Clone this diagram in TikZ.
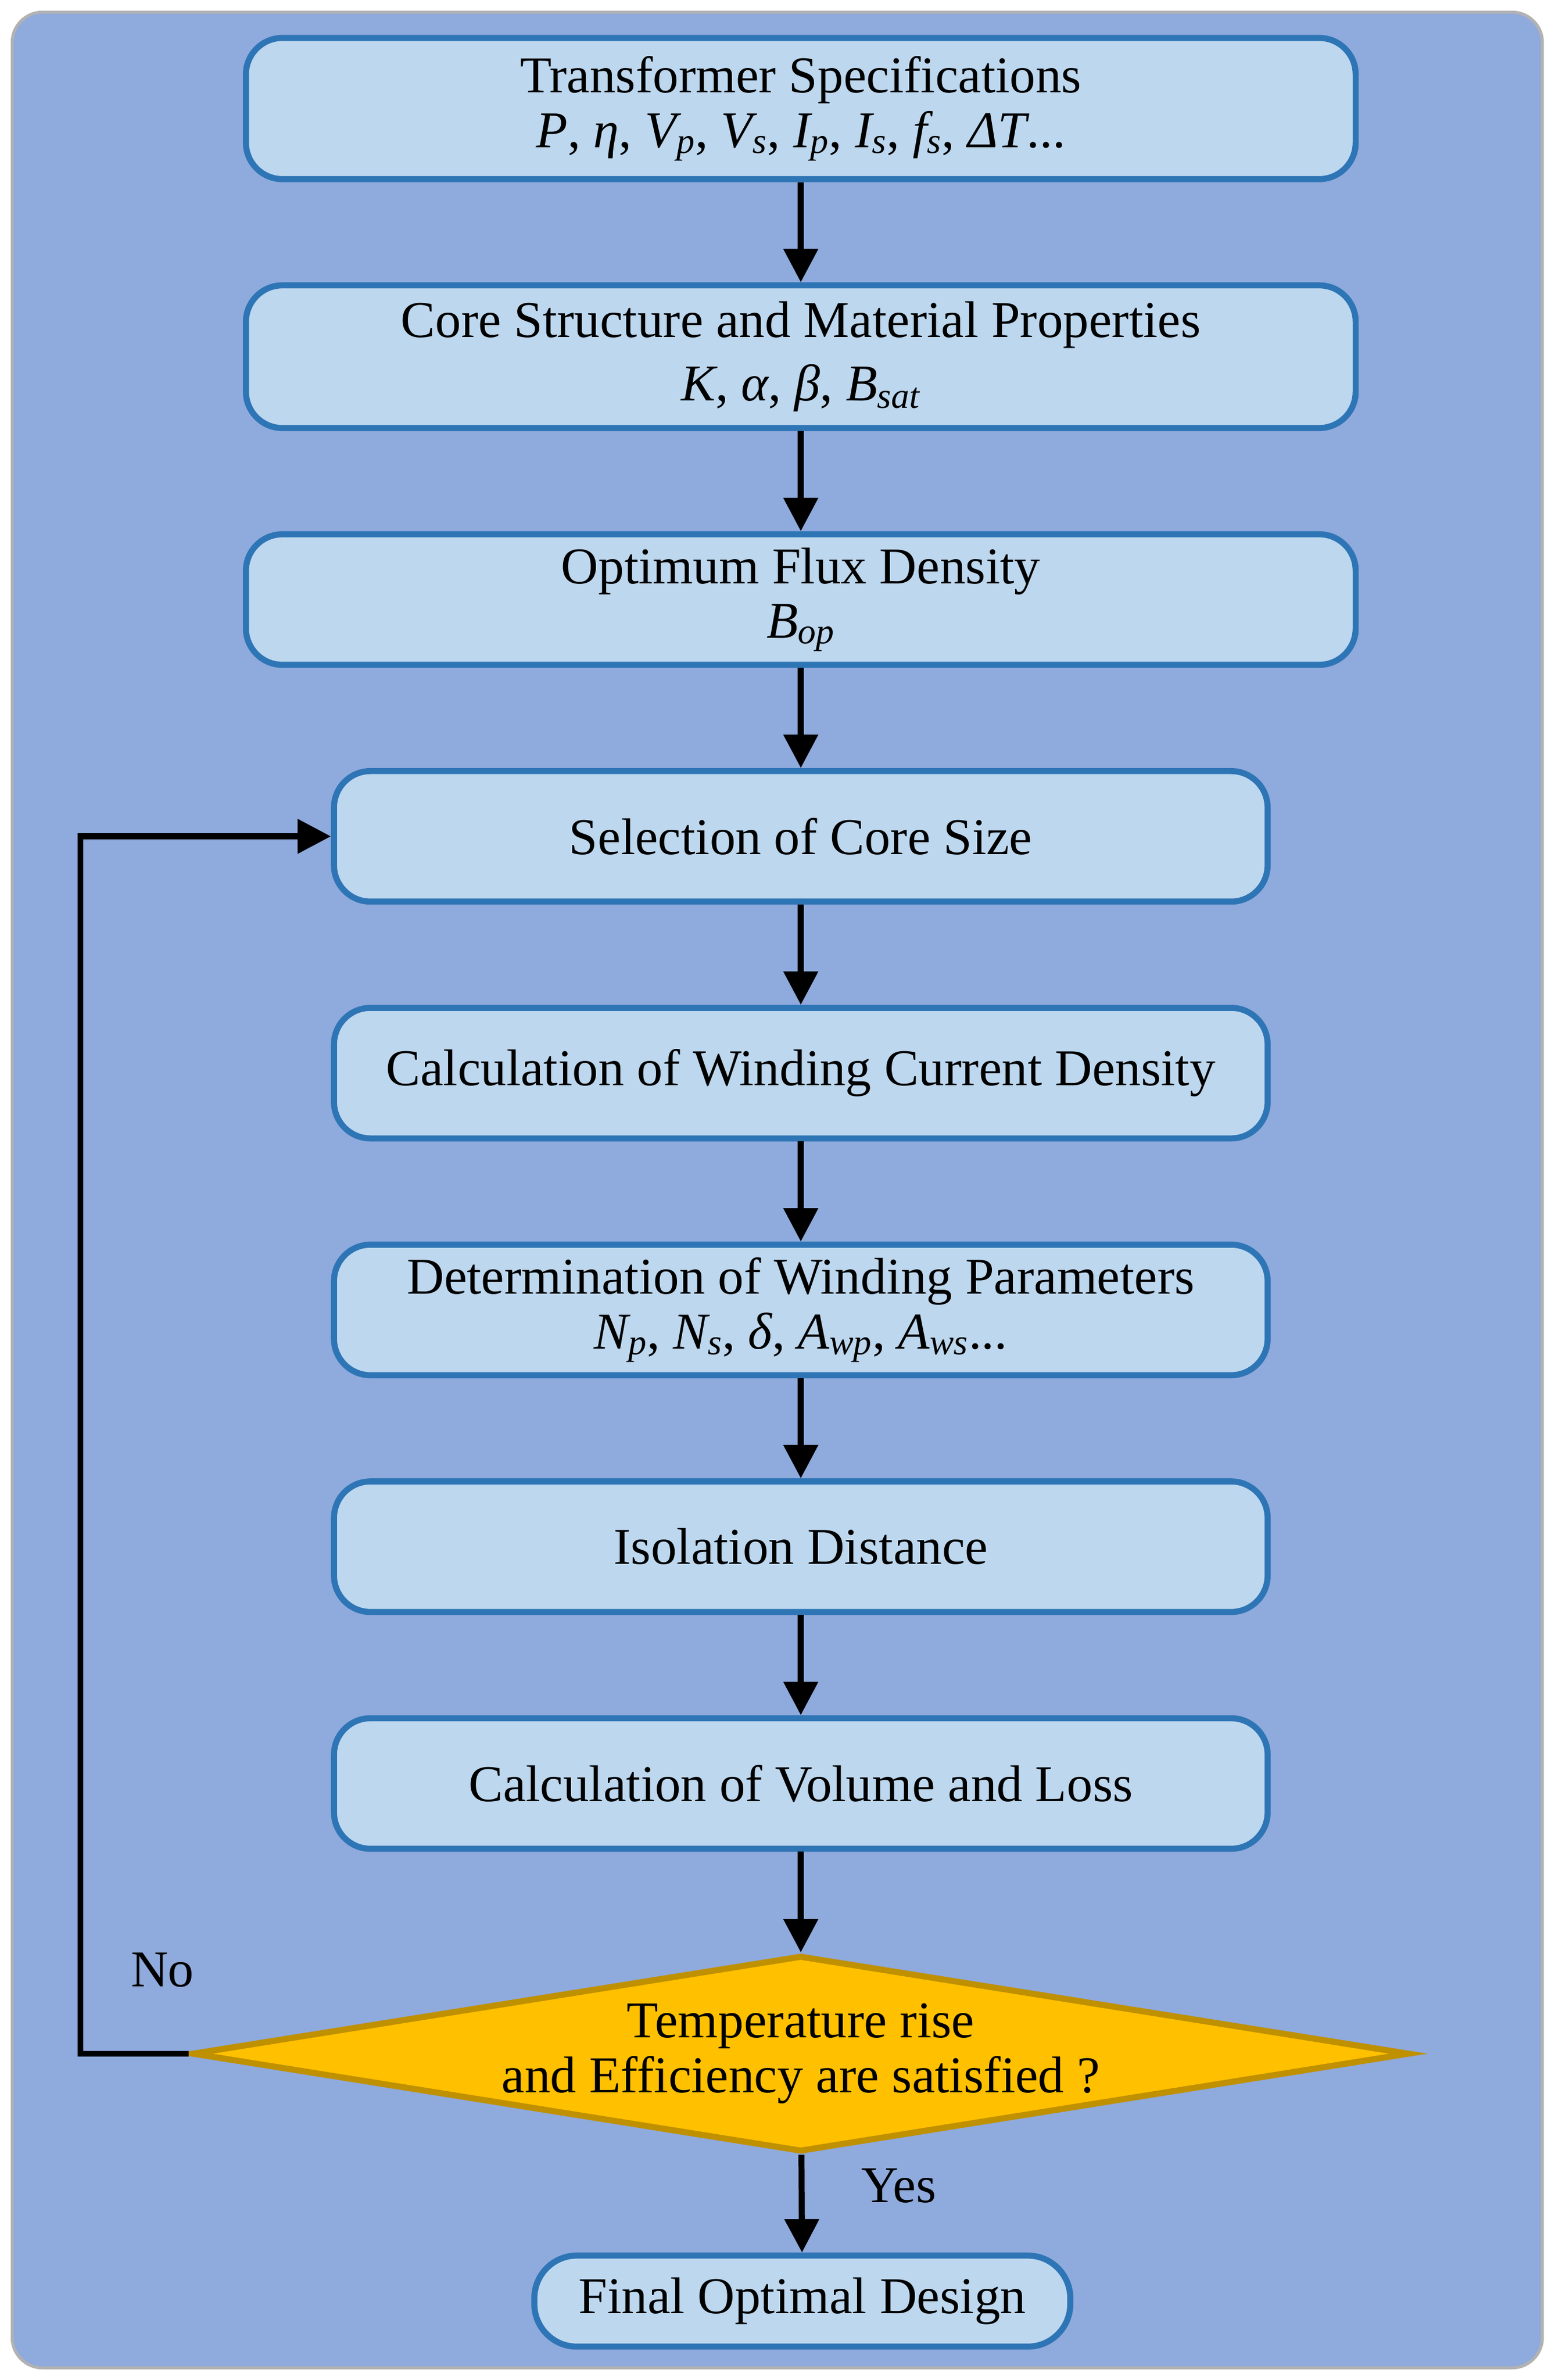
\documentclass[tikz,border=0pt]{standalone}
\usepackage{fontspec}
\setmainfont{Liberation Serif}
\usetikzlibrary{shapes.geometric,arrows.meta}
\definecolor{bg}{HTML}{8FAADC}
\definecolor{bx}{HTML}{BDD7EE}
\definecolor{bd}{HTML}{2E75B6}
\begin{document}
\begin{tikzpicture}[x=1pt,y=-1pt,
 box/.style={draw=bd,fill=bx,line width=4pt,rounded corners=24pt,inner sep=0pt,align=center,font=\fontsize{34}{36}\selectfont},
 arr/.style={line width=4pt,-{Triangle[length=22pt,width=22pt]}}]
\useasboundingbox (0,0) rectangle (1024,1568);
\draw[fill=bg,draw=gray!60,line width=2pt,rounded corners=20pt] (8,8) rectangle (1016,1560);
\node[box,minimum width=731pt,minimum height=93pt] (b1) at (527.5,71.5) {Transformer Specifications\\[0pt] \textit{P}, \textit{η}, \textit{V\textsubscript{p}}, \textit{V\textsubscript{s}}, \textit{I\textsubscript{p}}, \textit{I\textsubscript{s}}, \textit{f\textsubscript{s}}, \textit{ΔT}...};
\node[box,minimum width=731pt,minimum height=94pt] (b2) at (527.5,235) {Core Structure and Material Properties\\[6pt] \textit{K}, \textit{α}, \textit{β}, \textit{B\textsubscript{sat}}};
\node[box,minimum width=731pt,minimum height=86pt] (b3) at (527.5,395) {Optimum Flux Density\\ \textit{B\textsubscript{op}}};
\node[box,minimum width=615pt,minimum height=86pt] (b4) at (527.5,551) {Selection of Core Size};
\node[box,minimum width=615pt,minimum height=86pt] (b5) at (527.5,707) {Calculation of Winding Current Density};
\node[box,minimum width=615pt,minimum height=86pt] (b6) at (527.5,863) {Determination of Winding Parameters\\ \textit{N\textsubscript{p}}, \textit{N\textsubscript{s}}, \textit{δ}, \textit{A\textsubscript{wp}}, \textit{A\textsubscript{ws}}...};
\node[box,minimum width=615pt,minimum height=86pt] (b7) at (527.5,1019) {Isolation Distance};
\node[box,minimum width=615pt,minimum height=86pt] (b8) at (527.5,1175) {Calculation of Volume and Loss};
\node[diamond,draw={rgb,255:red,191;green,144;blue,0},fill={rgb,255:red,255;green,192;blue,0},line width=4pt,inner sep=0pt,aspect=6.2,minimum width=781pt,minimum height=126pt,align=center,font=\fontsize{34}{36}\selectfont] (d) at (527.5,1353) {Temperature rise\\ and Efficiency are satisfied ?};
\node[box,minimum width=353pt,minimum height=60pt,rounded corners=28pt] (f) at (528.5,1516) {Final Optimal Design};
\foreach \a/\b in {b1/b2,b2/b3,b3/b4,b4/b5,b5/b6,b6/b7,b7/b8,b8/d,d/f} \draw[arr] (\a) -- (\b);
\coordinate (c1) at (53,1353);
\coordinate (c2) at (53,551);
\draw[arr] (d.west) -- (c1) -- (c2) -- (b4.west);
\node[font=\fontsize{34}{36}\selectfont] (no) at (107,1298) {No};
\node[font=\fontsize{34}{36}\selectfont] (yes) at (592,1440) {Yes};
\end{tikzpicture}
\end{document}
